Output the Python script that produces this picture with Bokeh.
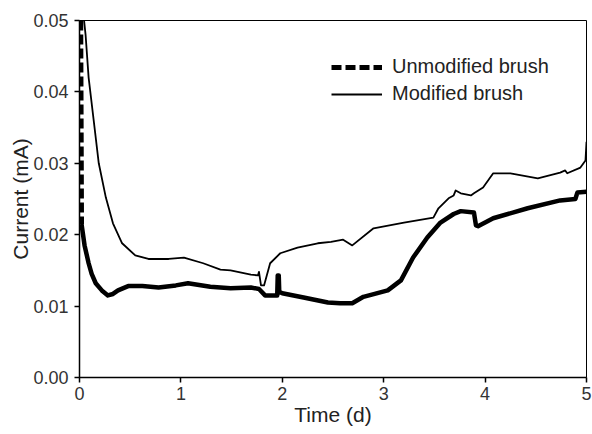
from bokeh.plotting import figure
from bokeh.models import FixedTicker, PrintfTickFormatter, Legend, LegendItem, Range1d
from bokeh.embed import file_html
from bokeh.resources import INLINE

# Unmodified brush: initial steep drop (dashed) then main trace
unmod_start_t = [0.012, 0.02]
unmod_start_i = [0.0500, 0.0215]

unmod_t = [0.02, 0.05, 0.09, 0.12, 0.16, 0.22, 0.28, 0.33, 0.38, 0.48, 0.62, 0.78, 0.95, 1.07,
           1.29, 1.49, 1.69, 1.77, 1.83, 1.95, 1.955, 1.965, 1.97, 2.0, 2.21, 2.45, 2.57, 2.69,
           2.80, 3.04, 3.17, 3.29, 3.43, 3.56, 3.69, 3.76, 3.89, 3.91, 3.93, 4.08, 4.42, 4.74,
           4.89, 4.91, 5.0]
unmod_i = [0.0215, 0.0185, 0.0160, 0.0145, 0.0132, 0.0122, 0.0115, 0.0117, 0.0122, 0.0128, 0.0128,
           0.0126, 0.0129, 0.0132, 0.0127, 0.0125, 0.0126, 0.0124, 0.0115, 0.0115, 0.0143, 0.0143,
           0.0120, 0.0118, 0.0112, 0.0105, 0.0104, 0.0104, 0.0113, 0.0122, 0.0136, 0.0168, 0.0196,
           0.0217, 0.0229, 0.0233, 0.0231, 0.0213, 0.0212, 0.0223, 0.0237, 0.0248, 0.0250, 0.0259,
           0.0260]

mod_t = [0.03, 0.06, 0.09, 0.14, 0.19, 0.26, 0.33, 0.42, 0.55, 0.68, 0.88, 1.03, 1.22, 1.39,
         1.49, 1.69, 1.76, 1.77, 1.79, 1.82, 1.88, 1.98, 2.15, 2.35, 2.48, 2.60, 2.69, 2.90,
         3.20, 3.49, 3.54, 3.64, 3.69, 3.71, 3.76, 3.86, 3.89, 3.98, 4.08, 4.25, 4.52, 4.74,
         4.79, 4.81, 4.94, 4.99, 5.0]
mod_i = [0.0520, 0.0480, 0.0420, 0.0360, 0.0300, 0.0252, 0.0216, 0.0188, 0.0171, 0.0166, 0.0166,
         0.0168, 0.0160, 0.0151, 0.0150, 0.0144, 0.0143, 0.0148, 0.0129, 0.0129, 0.0160, 0.0174,
         0.0182, 0.0188, 0.0190, 0.0193, 0.0185, 0.0209, 0.0217, 0.0224, 0.0237, 0.0251, 0.0255,
         0.0262, 0.0258, 0.0255, 0.0258, 0.0266, 0.0286, 0.0286, 0.0279, 0.0287, 0.0290, 0.0286,
         0.0294, 0.0304, 0.0330]

x_ticks = [0, 1, 2, 3, 4, 5]
y_ticks = [0.00, 0.01, 0.02, 0.03, 0.04, 0.05]

FONT = "Liberation Sans"

p = figure(width=592, height=434, output_backend="svg", toolbar_location=None,
           x_range=Range1d(0, 5), y_range=Range1d(0, 0.05),
           min_border_left=79, min_border_right=6, min_border_top=20, min_border_bottom=57)
p.background_fill_color = "white"
p.border_fill_color = "white"
p.grid.visible = False
p.outline_line_color = "black"
p.outline_line_width = 1

r_dash = p.line(unmod_start_t, unmod_start_i, line_color="black", line_width=5, line_dash="10 4")
r_unmod = p.line(unmod_t, unmod_i, line_color="black", line_width=4.5, line_join="round")
r_mod = p.line(mod_t, mod_i, line_color="black", line_width=1.8, line_join="round")

for ax in (p.xaxis[0], p.yaxis[0]):
    ax.axis_line_color = "black"
    ax.axis_line_width = 1.5
    ax.major_tick_line_color = "black"
    ax.major_tick_line_width = 1.5
    ax.major_tick_in = 0
    ax.major_tick_out = 5
    ax.minor_tick_line_color = None
    ax.major_label_text_font = FONT
    ax.major_label_text_font_size = "18px"
    ax.major_label_text_color = "#333333"
    ax.axis_label_text_font = FONT
    ax.axis_label_text_font_size = "21px"
    ax.axis_label_text_font_style = "normal"
    ax.axis_label_text_color = "#222222"

p.xaxis.ticker = FixedTicker(ticks=x_ticks)
p.xaxis.formatter = PrintfTickFormatter(format="%d")
p.yaxis.ticker = FixedTicker(ticks=y_ticks)
p.yaxis.formatter = PrintfTickFormatter(format="%.2f")
p.xaxis.axis_label = "Time (d)"
p.yaxis.axis_label = "Current (mA)"
p.xaxis.major_label_standoff = 4
p.yaxis.major_label_standoff = 6
p.xaxis.axis_label_standoff = 0
p.yaxis.axis_label_standoff = -2

legend = Legend(items=[LegendItem(label="Unmodified brush", renderers=[r_dash]),
                       LegendItem(label="Modified brush", renderers=[r_mod])],
                location=(252, 272), padding=0, margin=0, spacing=4,
                glyph_width=51, glyph_height=22, label_standoff=10, label_height=22,
                label_text_font=FONT, label_text_font_size="20px", label_text_color="#222222",
                border_line_color=None, background_fill_alpha=0)
p.add_layout(legend)

open("out.html", "w").write(file_html(p, INLINE))
